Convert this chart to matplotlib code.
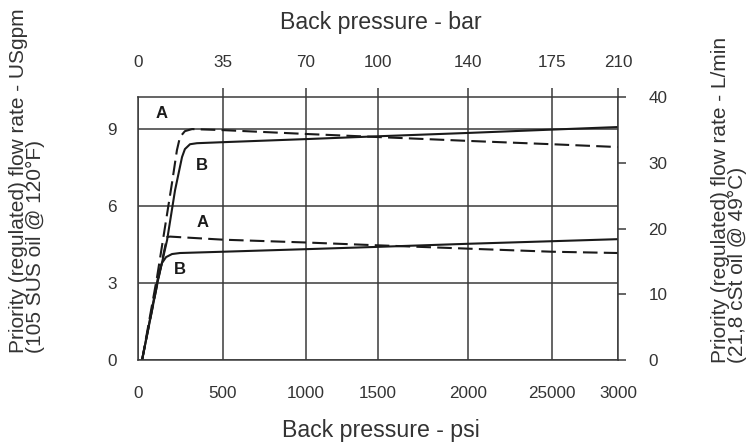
import matplotlib
matplotlib.use('Agg')
import matplotlib.pyplot as plt
import numpy as np

plt.rcParams['font.family'] = ['Liberation Sans', 'DejaVu Sans']

# Axis ticks
psi_ticks = [0, 500, 1000, 1500, 2000, 2500, 3000]
psi_labels = ['0', '500', '1000', '1500', '2000', '25000', '3000']
bar_labels = ['0', '35', '70', '100', '140', '175', '210']
gpm_ticks = [0, 3, 6, 9]
lpm_ticks = [0, 10, 20, 30, 40]

# Curves (x = psi, y = USgpm)
upper_a_x = [24, 112, 200, 229, 247, 276, 318, 500, 1000, 1500, 2000, 2500, 3000]
upper_a_y = [0, 3.23, 6.90, 8.18, 8.69, 8.92, 9.00, 8.96, 8.81, 8.69, 8.54, 8.41, 8.30]

upper_b_x = [24, 118, 171, 218, 259, 276, 306, 347, 500, 1000, 1500, 2000, 2500, 3000]
upper_b_y = [0, 3.12, 4.67, 6.62, 7.91, 8.22, 8.41, 8.45, 8.49, 8.61, 8.72, 8.85, 8.98, 9.08]

lower_a_x = [24, 118, 171, 188, 500, 1000, 1500, 2000, 2500, 3000]
lower_a_y = [0, 3.12, 4.79, 4.81, 4.69, 4.58, 4.47, 4.34, 4.22, 4.17]

lower_b_x = [24, 118, 141, 165, 200, 247, 500, 1000, 1500, 2000, 2500, 3000]
lower_b_y = [0, 3.23, 3.78, 4.01, 4.13, 4.17, 4.22, 4.32, 4.41, 4.53, 4.63, 4.71]

txt = '#333333'
gridc = '#3a3a3a'
linec = '#1a1a1a'

# the printed grid is not evenly spaced, so map the psi ticks piecewise
grid_pos = [0, 0.177, 0.350, 0.500, 0.6875, 0.8625, 1.0]


def fwd(v):
    return np.interp(v, psi_ticks, grid_pos)


def inv(v):
    return np.interp(v, grid_pos, psi_ticks)


fig = plt.figure(figsize=(7.55, 4.42), dpi=100)
ax = fig.add_axes([0.1828, 0.1855, 0.6358, 0.5950])
ax.set_xscale('function', functions=(fwd, inv))

ax.plot(upper_a_x, upper_a_y, color=linec, lw=1.5, dashes=(7, 3), solid_joinstyle='round')
ax.plot(upper_b_x, upper_b_y, color=linec, lw=1.5, solid_joinstyle='round')
ax.plot(lower_a_x, lower_a_y, color=linec, lw=1.5, dashes=(7, 3), solid_joinstyle='round')
ax.plot(lower_b_x, lower_b_y, color=linec, lw=1.5, solid_joinstyle='round')

# curve letters
for lx, ly, s in [(141, 9.62, 'A'), (376, 7.60, 'B'), (382, 5.34, 'A'), (247, 3.51, 'B')]:
    ax.text(lx, ly, s, fontsize=12, fontweight='bold', color=linec, ha='center', va='center')

ax.set_xlim(0, 3000)
ax.set_ylim(0, 10.25)
ax.set_xticks(psi_ticks, psi_labels)
ax.xaxis.set_minor_locator(plt.NullLocator())
ax.set_yticks(gpm_ticks)
ax.tick_params(axis='x', length=0, pad=18.5, labelsize=12.3, labelcolor=txt)
ax.tick_params(axis='y', length=0, pad=15, labelsize=12.3, labelcolor=txt)
ax.grid(True, color=gridc, lw=1.1)
ax.set_axisbelow(True)
for sp in ax.spines.values():
    sp.set_color(gridc)
    sp.set_linewidth(1.1)

# right axis in L/min
ax2 = ax.twinx()
ax2.set_ylim(0, 40)
ax2.set_yticks(lpm_ticks)
ax2.tick_params(axis='y', length=6, width=1.1, color=gridc, pad=16, labelsize=12.3, labelcolor=txt)
for sp in ax2.spines.values():
    sp.set_visible(False)

# top axis in bar
ax3 = ax.twiny()
ax3.set_xscale('function', functions=(fwd, inv))
ax3.set_xlim(0, 3000)
ax3.set_xticks(psi_ticks, bar_labels)
ax3.xaxis.set_minor_locator(plt.NullLocator())
ax3.tick_params(axis='x', length=6.5, width=1.1, color=gridc, pad=13, labelsize=12.3, labelcolor=txt)
ax3.xaxis.get_major_ticks()[0].tick2line.set_visible(False)
for sp in ax3.spines.values():
    sp.set_visible(False)

fig.text(381 / 755, 1 - 22 / 442, 'Back pressure - bar', fontsize=16.7, color=txt, ha='center', va='center')
fig.text(381 / 755, 1 - 430 / 442, 'Back pressure - psi', fontsize=16.7, color=txt, ha='center', va='center')
fig.text(27 / 755, 1 - 353 / 442, 'Priority (regulated) flow rate - USgpm\n(105 SUS oil @ 120°F)',
         fontsize=15, color=txt, rotation=90, ha='center', va='bottom',
         multialignment='left', linespacing=0.82)
fig.text(729 / 755, 1 - 363 / 442, 'Priority (regulated) flow rate - L/min\n(21,8 cSt oil @ 49°C)',
         fontsize=15, color=txt, rotation=90, ha='center', va='bottom',
         multialignment='left', linespacing=0.82)

fig.savefig('out.png', dpi=100)
